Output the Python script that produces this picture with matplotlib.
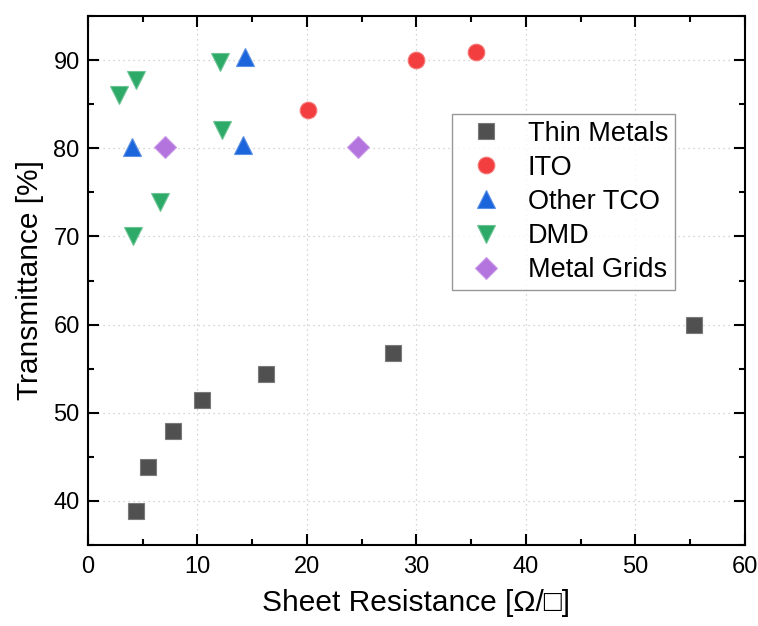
import matplotlib
matplotlib.use('Agg')
import matplotlib.pyplot as plt
from matplotlib.ticker import MultipleLocator

plt.rcParams['font.family'] = ['Liberation Sans', 'DejaVu Sans']

# data
tm_x = [4.4, 5.5, 7.8, 10.4, 16.3, 27.9, 55.3]
tm_y = [38.8, 43.9, 47.9, 51.5, 54.4, 56.8, 59.9]
ito_x = [20.1, 30.0, 35.4]
ito_y = [84.3, 90.0, 90.9]
tco_x = [4.0, 14.3, 14.2]
tco_y = [80.1, 90.4, 80.4]
dmd_x = [2.8, 4.4, 12.1, 12.2, 6.6, 4.1]
dmd_y = [86.0, 87.8, 89.8, 82.1, 73.9, 70.1]
grid_x = [7.0, 24.7]
grid_y = [80.1, 80.2]

fig = plt.figure(figsize=(7.58, 6.26), dpi=100)
ax = fig.add_axes([0.1161, 0.1294, 0.8667, 0.845])

ax.plot(tm_x, tm_y, 's', ms=11, color='#505050', mec='#7a7a7a', mew=0.8, label='Thin Metals')
ax.plot(ito_x, ito_y, 'o', ms=12, color='#f23e3e', mec='#f57a7a', mew=0.8, label='ITO')
ax.plot(tco_x, tco_y, '^', ms=13, color='#1a64dc', mec='#5a8fe6', mew=0.8, label='Other TCO')
ax.plot(dmd_x, dmd_y, 'v', ms=13, color='#2eaa68', mec='#6cc495', mew=0.8, label='DMD')
ax.plot(grid_x, grid_y, 'D', ms=11, color='#b374de', mec='#c99ae8', mew=0.8, label='Metal Grids')

ax.set_xlim(0, 60)
ax.set_ylim(35, 95)
ax.xaxis.set_major_locator(MultipleLocator(10))
ax.xaxis.set_minor_locator(MultipleLocator(5))
ax.yaxis.set_major_locator(MultipleLocator(10))
ax.yaxis.set_minor_locator(MultipleLocator(5))
ax.tick_params(which='both', direction='in', top=True, right=True, labelsize=17, width=1.5)
ax.tick_params(which='major', length=8)
ax.tick_params(which='minor', length=4)
ax.tick_params(axis='x', pad=8)
ax.tick_params(axis='y', pad=6)
for s in ax.spines.values():
    s.set_linewidth(1.5)
ax.grid(True, which='major', color='#c8c8c8', linestyle=(0, (1, 3)), linewidth=0.9)
ax.set_axisbelow(True)

ax.set_xlabel('Sheet Resistance [Ω/□]', fontsize=21.5, labelpad=8)
ax.set_ylabel('Transmittance [%]', fontsize=21.5, labelpad=7)

leg = ax.legend(loc='upper left', bbox_to_anchor=(0.554, 0.815), fontsize=19.5, frameon=True,
                fancybox=False, edgecolor='#7f7f7f', handletextpad=0.55, labelspacing=0.3,
                borderpad=0.25, handlelength=2.0, borderaxespad=0)
leg.get_frame().set_linewidth(1.0)

plt.savefig('out.png', dpi=100)
